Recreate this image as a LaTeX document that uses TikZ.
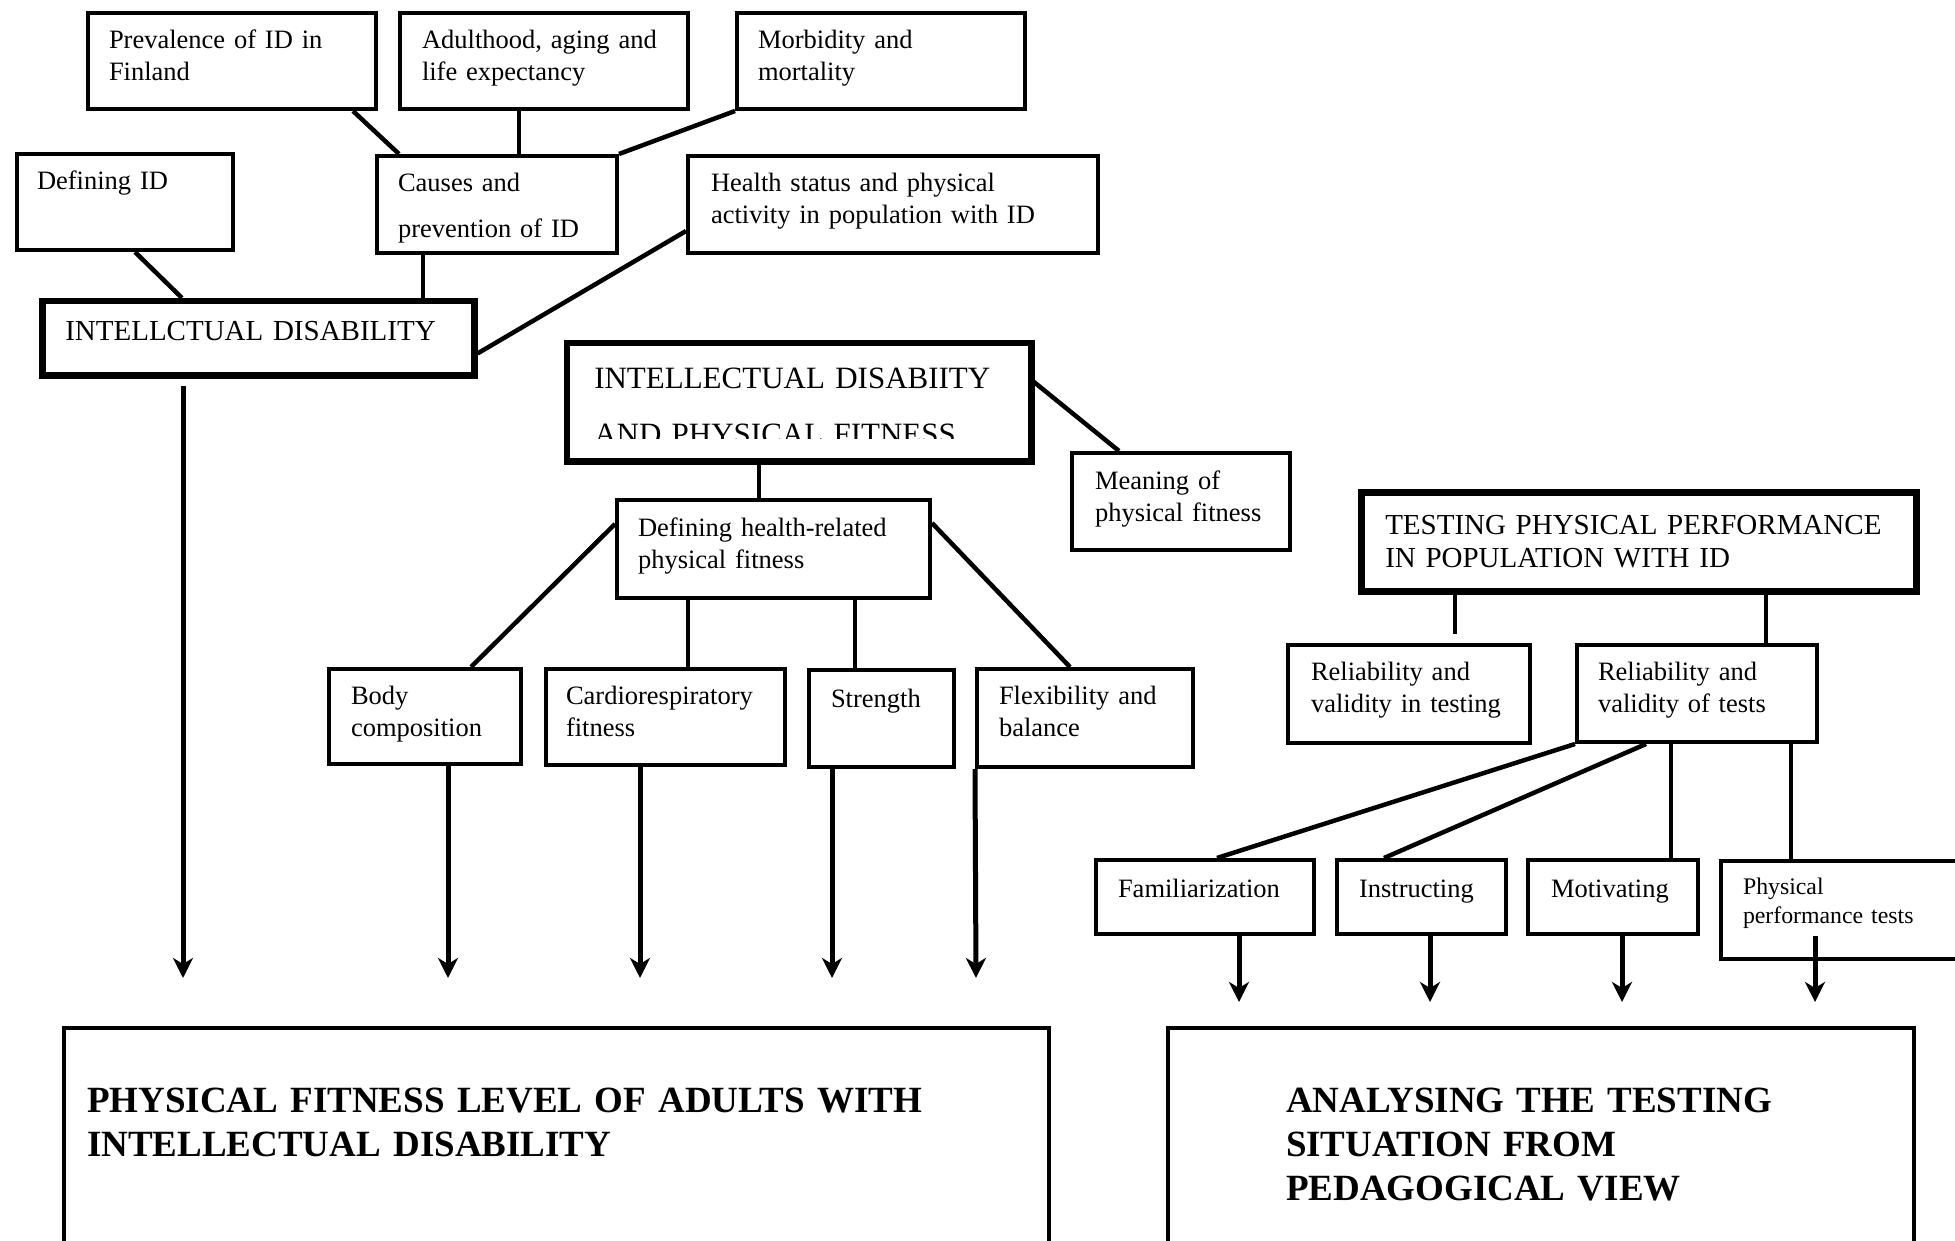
\documentclass[tikz,border=0pt]{standalone}
\usepackage{fontspec}
\setmainfont{Liberation Serif}
\usetikzlibrary{arrows.meta}

\tikzset{
  cell/.style={draw, line width=4pt, anchor=north west, align=left, inner ysep=0pt,
    font=\fontsize{26.5}{32}\selectfont},
  headcell/.style={cell, line width=6.5pt, font=\fontsize{29}{33}\selectfont},
  goalcell/.style={cell, font=\bfseries\fontsize{37}{44}\selectfont},
  link/.style={line width=4.5pt},
  flow/.style={line width=5pt, -{Stealth[length=20pt,width=20pt,inset=6pt]}},
}

\begin{document}
\begin{tikzpicture}[x=1pt,y=-1pt]
\useasboundingbox (0,0) rectangle (1955,1241);
\clip (0,0) rectangle (1955,1241);

% Intellectual disability
\node[cell, text width=246pt, inner xsep=21pt, text height=36pt, text depth=60pt] (prev) at (86,11) {Prevalence of ID in\\Finland};
\node[cell, text width=244pt, inner xsep=22pt, text height=36pt, text depth=60pt] (adult) at (398,11) {Adulthood, aging and\\life expectancy};
\node[cell, text width=246pt, inner xsep=21pt, text height=36pt, text depth=60pt] (morb) at (735,11) {Morbidity and\\mortality};
\node[cell, text width=176pt, inner xsep=20pt, text height=36pt, text depth=60pt] (defid) at (15,152) {Defining ID};
\node[cell, text width=198pt, inner xsep=21pt, text height=36pt, text depth=61pt] (cause) at (375,154) {Causes and\\[14pt]prevention of ID};
\node[cell, text width=364pt, inner xsep=23pt, text height=36pt, text depth=61pt] (health) at (686,154) {Health status and physical\\activity in population with ID};
\node[headcell, text width=386pt, inner xsep=23pt, text height=39pt, text depth=35pt] (idis) at (39,298) {INTELLCTUAL DISABILITY};

\draw[link] ([xshift=267pt]prev.south west) -- ([xshift=24pt]cause.north west);
\draw[link] ([xshift=121pt]adult.south west) -- ([xshift=144pt]cause.north west);
\draw[link] (morb.south west) -- (cause.north east);
\draw[link] ([xshift=120pt]defid.south west) -- ([xshift=143pt]idis.north west);
\draw[link] ([xshift=48pt]cause.south west) -- ([xshift=384pt]idis.north west);
\draw[link] ([yshift=24pt]health.south west) -- ([yshift=25pt]idis.south east);

% Physical fitness
\begin{scope}
\clip (567,343) rectangle (1025,438);
\node[headcell, draw=none, font=\fontsize{31}{56}\selectfont, text width=410pt, inner xsep=24pt, text height=42pt, text depth=70pt] (idpf) at (567,343) {INTELLECTUAL DISABIITY\\AND PHYSICAL FITNESS};
\end{scope}
\draw[line width=6.5pt] (idpf.north west) rectangle (idpf.south east);

\node[cell, text width=172pt, inner xsep=23pt, text height=36pt, text depth=61pt] (meaning) at (1070,451) {Meaning of\\physical fitness};
\node[cell, text width=271pt, inner xsep=21pt, text height=36pt, text depth=62pt] (defhr) at (615,498) {Defining health-related\\physical fitness};
\node[cell, text width=148pt, inner xsep=22pt, text height=35pt, text depth=60pt] (body) at (327,667) {Body\\composition};
\node[cell, text width=199pt, inner xsep=20pt, text height=35pt, text depth=61pt] (cardio) at (544,667) {Cardiorespiratory\\fitness};
\node[cell, text width=101pt, inner xsep=22pt, text height=37pt, text depth=60pt] (strength) at (807,668) {Strength};
\node[cell, text width=172pt, inner xsep=22pt, text height=35pt, text depth=63pt] (flex) at (975,667) {Flexibility and\\balance};

\draw[link] ([yshift=-37pt]idpf.north east) -- ([xshift=49pt]meaning.north west);
\draw[link] ([xshift=192pt]idpf.south west) -- ([xshift=144pt]defhr.north west);
\draw[link] ([yshift=-26pt]defhr.north west) -- ([xshift=144pt]body.north west);
\draw[link] ([xshift=73pt]defhr.south west) -- ([xshift=144pt]cardio.north west);
\draw[link] ([xshift=240pt]defhr.south west) -- ([xshift=48pt]strength.north west);
\draw[link] ([yshift=-25pt]defhr.north east) -- ([xshift=95pt]flex.north west);

% Testing
\node[headcell, text width=507pt, inner xsep=24pt, text height=42pt, text depth=57pt] (testing) at (1358,489) {TESTING PHYSICAL PERFORMANCE\\IN POPULATION WITH ID};
\node[cell, text width=196pt, inner xsep=23pt, text height=35pt, text depth=63pt] (relin) at (1286,643) {Reliability and\\validity in testing};
\node[cell, text width=198pt, inner xsep=21pt, text height=35pt, text depth=62pt] (relof) at (1575,643) {Reliability and\\validity of tests};
\node[cell, text width=174pt, inner xsep=22pt, text height=37pt, text depth=37pt] (fam) at (1094,858) {Familiarization};
\node[cell, text width=125pt, inner xsep=22pt, text height=37pt, text depth=37pt] (instr) at (1335,858) {Instructing};
\node[cell, text width=124pt, inner xsep=23pt, text height=37pt, text depth=37pt] (motiv) at (1526,858) {Motivating};
\node[cell, font=\fontsize{23.8}{29}\selectfont, text width=212pt, inner xsep=22pt, text height=33pt, text depth=65pt] (phys) at (1719,859) {Physical\\performance tests};

\draw[link] ([xshift=97pt]testing.south west) -- ([xshift=169pt,yshift=9pt]relin.north west);
\draw[link] ([xshift=408pt]testing.south west) -- ([xshift=191pt]relof.north west);
\draw[link] (relof.south west) -- ([xshift=123pt]fam.north west);
\draw[link] ([xshift=71pt]relof.south west) -- ([xshift=49pt]instr.north west);
\draw[link] ([xshift=96pt]relof.south west) -- ([xshift=145pt]motiv.north west);
\draw[link] ([xshift=216pt]relof.south west) -- ([xshift=72pt]phys.north west);

% Outcomes
\node[goalcell, text width=939pt, inner xsep=23pt, text height=84pt, text depth=150pt] (level) at (62,1026) {PHYSICAL FITNESS LEVEL OF ADULTS WITH\\INTELLECTUAL DISABILITY};
\node[goalcell, text width=510pt, inner xsep=118pt, text height=84pt, text depth=150pt] (analys) at (1166,1026) {ANALYSING THE TESTING\\SITUATION FROM\\PEDAGOGICAL VIEW};

\draw[flow] ([xshift=144pt,yshift=-7pt]idis.south west) -- ([xshift=121pt,yshift=48pt]level.north west);
\draw[flow] ([xshift=121pt]body.south west) -- ([xshift=386pt,yshift=48pt]level.north west);
\draw[flow] ([xshift=96pt]cardio.south west) -- ([xshift=578pt,yshift=48pt]level.north west);
\draw[flow] ([xshift=25pt]strength.south west) -- ([xshift=770pt,yshift=48pt]level.north west);
\draw[flow] (flex.south west) -- ([xshift=914pt,yshift=48pt]level.north west);

\draw[flow] ([xshift=145pt]fam.south west) -- ([xshift=73pt,yshift=24pt]analys.north west);
\draw[flow] ([xshift=95pt]instr.south west) -- ([xshift=264pt,yshift=24pt]analys.north west);
\draw[flow] ([xshift=96pt]motiv.south west) -- ([xshift=456pt,yshift=24pt]analys.north west);
\draw[flow] ([xshift=96pt,yshift=25pt]phys.south west) -- ([xshift=649pt,yshift=24pt]analys.north west);
\end{tikzpicture}
\end{document}
